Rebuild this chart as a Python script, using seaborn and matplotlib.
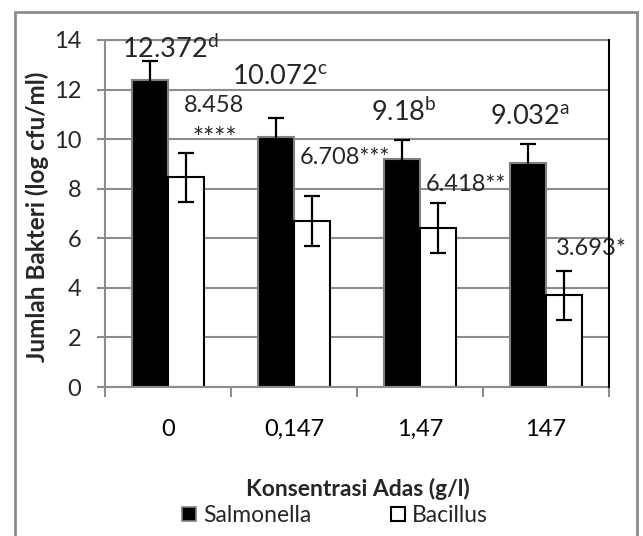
import numpy as np
import pandas as pd
import matplotlib
matplotlib.use('Agg')
import matplotlib.pyplot as plt
import seaborn as sns
from matplotlib.patches import Rectangle, Patch

# data
konsentrasi = ['0', '0,147', '1,47', '147']
salmonella = [12.372, 10.072, 9.18, 9.032]
bacillus = [8.458, 6.708, 6.418, 3.693]
err_salmonella = [0.78, 0.78, 0.78, 0.78]
err_bacillus = [1.0, 1.0, 1.0, 1.0]
label_salmonella = ['12.372$^{\\mathrm{d}}$', '10.072$^{\\mathrm{c}}$', '9.18$^{\\mathrm{b}}$', '9.032$^{\\mathrm{a}}$']
label_bacillus = ['8.458', '6.708***', '6.418**', '3.693*']

sns.set_theme(style="white")
plt.rcParams['font.family'] = ['Lato', 'DejaVu Sans']
plt.rcParams['mathtext.fontset'] = 'custom'
plt.rcParams['mathtext.rm'] = 'Lato'

df = pd.DataFrame({
    'konsentrasi': konsentrasi * 2,
    'jumlah': salmonella + bacillus,
    'bakteri': ['Salmonella'] * 4 + ['Bacillus'] * 4,
})

fig = plt.figure(figsize=(6.43, 5.36), dpi=100)
ax = fig.add_axes([105/643, 1 - 387/536, 504/643, 347/536])

sns.barplot(data=df, x='konsentrasi', y='jumlah', hue='bakteri',
            hue_order=['Salmonella', 'Bacillus'], order=konsentrasi,
            palette=['black', 'white'], width=0.57, errorbar=None,
            legend=False, ax=ax, zorder=2)

bars = ax.patches
for b in bars[:4]:
    b.set_edgecolor('#808080')
    b.set_linewidth(1.5)
for b in bars[4:8]:
    b.set_edgecolor('black')
    b.set_linewidth(1.5)

xs_s = [b.get_x() + b.get_width() / 2 for b in bars[:4]]
xs_b = [b.get_x() + b.get_width() / 2 for b in bars[4:8]]
ax.errorbar(xs_s, salmonella, yerr=err_salmonella, fmt='none', ecolor='black',
            elinewidth=1.6, capsize=6, capthick=1.6, zorder=3)
ax.errorbar(xs_b, bacillus, yerr=err_bacillus, fmt='none', ecolor='black',
            elinewidth=1.6, capsize=6, capthick=1.6, zorder=3)

# manual data labels (Excel style placement)
big = 19.5
small = 17
ax.text(0.02, 13.63, label_salmonella[0], ha='center', va='center', fontsize=big)
ax.text(0.89, 12.5, label_salmonella[1], ha='center', va='center', fontsize=big)
ax.text(1.873, 11.09, label_salmonella[2], ha='center', va='center', fontsize=big)
ax.text(2.873, 10.89, label_salmonella[3], ha='center', va='center', fontsize=big)
ax.text(0.365, 11.37, label_bacillus[0], ha='center', va='center', fontsize=small)
ax.text(0.37, 10.0, '****', ha='center', va='center', fontsize=small + 2)
ax.text(1.405, 9.27, label_bacillus[1], ha='center', va='center', fontsize=small)
ax.text(2.365, 8.19, label_bacillus[2], ha='center', va='center', fontsize=small)
ax.text(3.357, 5.6, label_bacillus[3], ha='center', va='center', fontsize=small, zorder=1)

ax.set_xlim(-0.5, 3.5)
ax.set_ylim(0, 14)
ax.set_yticks(np.arange(0, 15, 2))
ax.set_axisbelow(True)
ax.yaxis.grid(True, color='#8c8c8c', linewidth=1.5)
ax.xaxis.grid(False)

for s in ['left', 'bottom', 'top']:
    ax.spines[s].set_color('#8c8c8c')
    ax.spines[s].set_linewidth(1.5)
ax.spines['right'].set_color('black')
ax.spines['right'].set_linewidth(1.5)
ax.spines['right'].set_zorder(5)

ax.set_xticks(np.arange(-0.5, 4, 1), minor=True)
ax.tick_params(axis='x', which='major', length=0, pad=23, labelsize=17, colors='black')
ax.tick_params(axis='x', which='minor', length=7, width=1.5, color='#8c8c8c', direction='out', bottom=True)
ax.tick_params(axis='y', which='major', length=6, width=1.5, color='#8c8c8c', direction='out',
               pad=11, labelsize=17, left=True)

ax.set_xlabel('Konsentrasi Adas (g/l)', fontsize=16.5, fontweight='bold')
ax.xaxis.label.set_va('center')
ax.xaxis.set_label_coords(0.502, (387 - 489) / 347)
ax.set_ylabel('Jumlah Bakteri (log cfu/ml)', fontsize=17.5, fontweight='bold')
ax.yaxis.label.set_va('center')
ax.yaxis.set_label_coords((37 - 105) / 504, 0.49)

handles = [Patch(facecolor='black', edgecolor='#808080', linewidth=1.2, label='Salmonella'),
           Patch(facecolor='white', edgecolor='black', linewidth=1.5, label='Bacillus')]
fig.legend(handles=handles, loc='center', bbox_to_anchor=(0.521, 0.038), ncol=2,
           frameon=False, fontsize=16.5, handlelength=0.6, handleheight=0.6,
           handletextpad=0.3, columnspacing=3.5)

fig.patches.append(Rectangle((15/643, -0.02), (637 - 15)/643, 1 - 12/536 + 0.02,
                             transform=fig.transFigure, fill=False,
                             edgecolor='#8c8c8c', linewidth=2, zorder=0))

fig.savefig('out.png', dpi=100)
